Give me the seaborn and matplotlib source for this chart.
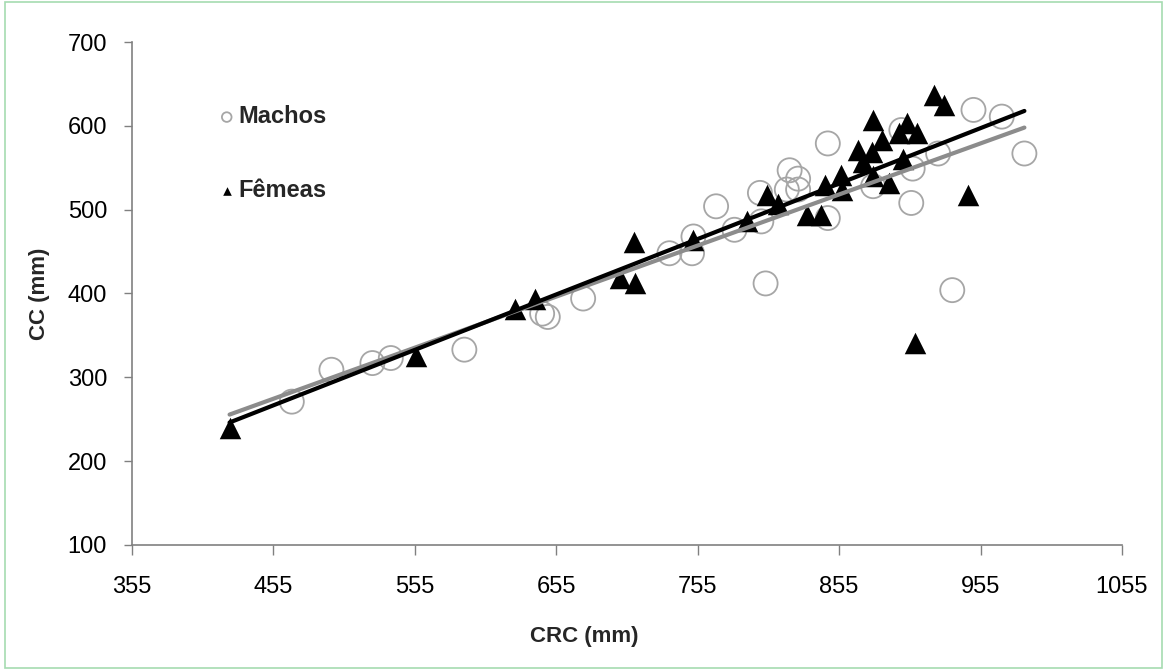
import numpy as np
import pandas as pd
import matplotlib
matplotlib.use("Agg")
import matplotlib.pyplot as plt
import seaborn as sns
from matplotlib.patches import Rectangle

# Machos (circles)
machos_crc = [468, 496, 525, 538, 590, 645, 649, 674, 735, 751, 752, 768, 781, 800, 799, 803,
              818, 820, 826, 826, 847, 847, 879, 899, 907, 906, 925, 935, 950, 970, 986]
machos_cc = [271, 309, 317, 323, 333, 376, 372, 394, 448, 448, 468, 504, 476, 486, 520, 412,
             524, 547, 537, 524, 579, 490, 528, 595, 549, 508, 567, 404, 619, 611, 567]

# Femeas (triangles)
femeas_crc = [424, 556, 626, 640, 700, 710, 711, 752, 790, 804, 812, 832, 842, 845, 856, 857,
              868, 872, 878, 879, 879, 890, 897, 900, 903, 910, 885, 909, 922, 929, 946]
femeas_cc = [240, 326, 381, 394, 418, 462, 412, 464, 487, 518, 507, 494, 494, 530, 541, 524,
             571, 557, 569, 540, 607, 532, 591, 561, 603, 591, 583, 341, 637, 625, 518]

x_ticks = [355, 455, 555, 655, 755, 855, 955, 1055]
y_ticks = [100, 200, 300, 400, 500, 600, 700]

machos = pd.DataFrame({"CRC": machos_crc, "CC": machos_cc})
femeas = pd.DataFrame({"CRC": femeas_crc, "CC": femeas_cc})

sns.set_style("white")
plt.rcParams['font.family'] = ['Liberation Sans', 'DejaVu Sans']

fig = plt.figure(figsize=(11.64, 6.70), dpi=100)
ax = fig.add_axes([0.1134, 0.1866, 0.8505, 0.7507])

sns.scatterplot(data=machos, x="CRC", y="CC", ax=ax, marker="o", s=300,
                facecolor="none", edgecolor="#a6a6a6", linewidth=1.3, label="Machos", zorder=2)
sns.scatterplot(data=femeas, x="CRC", y="CC", ax=ax, marker="^", s=240,
                color="black", edgecolor="black", linewidth=0, label="Fêmeas", zorder=3)

# linear trend lines over the full data range
xr = np.array([min(machos_crc + femeas_crc), max(machos_crc + femeas_crc)])
bm = np.polyfit(machos_crc, machos_cc, 1)
bf = np.polyfit(femeas_crc, femeas_cc, 1)
ax.plot(xr, np.polyval(bm, xr), color="#8c8c8c", lw=3, zorder=4)
ax.plot(xr, np.polyval(bf, xr), color="black", lw=3, zorder=5)

ax.set_xlim(355, 1055)
ax.set_ylim(100, 700)
ax.set_xticks(x_ticks)
ax.set_yticks(y_ticks)
ax.tick_params(axis="both", labelsize=17, colors="#000000")
ax.tick_params(axis="x", direction="out", length=7, width=1, color="#808080", pad=15, bottom=True)
ax.tick_params(axis="y", direction="out", length=6, width=1, color="#808080", pad=12, left=True)
for side in ["top", "right"]:
    ax.spines[side].set_visible(False)
for side in ["left", "bottom"]:
    ax.spines[side].set_color("#808080")
    ax.spines[side].set_linewidth(1.2)

ax.set_xlabel("CRC (mm)", fontsize=16, fontweight="bold", va="center")
ax.set_ylabel("CC (mm)", fontsize=16, fontweight="bold", va="center")
ax.xaxis.set_label_coords(0.457, -0.181)
ax.yaxis.set_label_coords(-0.093, 0.5)

leg = ax.legend(loc="upper left", bbox_to_anchor=(0.079, 0.893), frameon=False,
                fontsize=17, labelspacing=2.15, handlelength=0.6, handletextpad=0.2,
                markerscale=0.4, borderaxespad=0)
for t in leg.get_texts():
    t.set_fontweight("bold")

fig.patches.append(Rectangle((0.004, 0.003), 0.994, 0.994, transform=fig.transFigure,
                             fill=False, edgecolor="#a5dbb0", linewidth=1.2))

fig.savefig("out.png", dpi=100)
